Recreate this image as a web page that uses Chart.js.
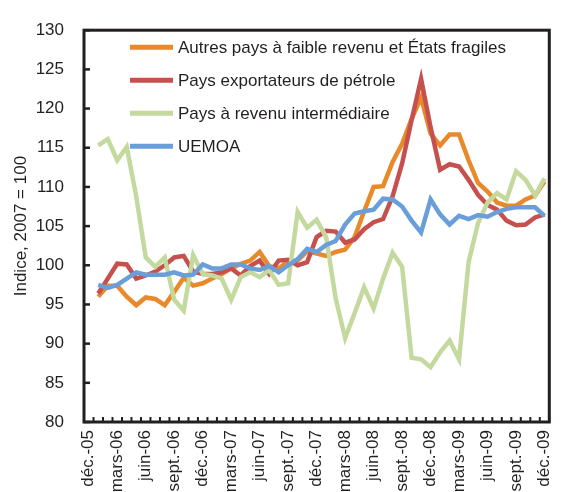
<!DOCTYPE html>
<html>
<head>
<meta charset="utf-8">
<script src="https://cdn.jsdelivr.net/npm/chart.js@4.4.1/dist/chart.umd.min.js"></script>
<style>
  html, body { margin: 0; padding: 0; background: #ffffff; }
  #wrap { width: 573px; height: 492px; }
</style>
</head>
<body>
<div id="wrap"><canvas id="prices" width="573" height="492"></canvas></div>
<script>
// Monthly categories, déc.-05 to déc.-09 (series start in janv.-06)
const months = [
    'déc.-05',
    'janv.-06', 'févr.-06', 'mars-06', 'avr.-06', 'mai-06', 'juin-06',
    'juil.-06', 'août-06', 'sept.-06', 'oct.-06', 'nov.-06', 'déc.-06',
    'janv.-07', 'févr.-07', 'mars-07', 'avr.-07', 'mai-07', 'juin-07',
    'juil.-07', 'août-07', 'sept.-07', 'oct.-07', 'nov.-07', 'déc.-07',
    'janv.-08', 'févr.-08', 'mars-08', 'avr.-08', 'mai-08', 'juin-08',
    'juil.-08', 'août-08', 'sept.-08', 'oct.-08', 'nov.-08', 'déc.-08',
    'janv.-09', 'févr.-09', 'mars-09', 'avr.-09', 'mai-09', 'juin-09',
    'juil.-09', 'août-09', 'sept.-09', 'oct.-09', 'nov.-09', 'déc.-09'
];

const seriesNames = [
    'Autres pays à faible revenu et États fragiles',
    'Pays exportateurs de pétrole',
    'Pays à revenu intermédiaire',
    'UEMOA'
];

const autresPays = [null,
    96.0, 97.4, 97.4, 96.0, 94.9, 95.9, 95.7, 94.9, 96.6, 98.4, 97.4, 97.7,
    98.3, 98.9, 99.6, 100.2, 100.6, 101.7, 99.9, 99.6, 100.5, 100.6, 101.8, 101.5,
    101.2, 101.7, 102.0, 103.6, 106.9, 110.0, 110.1, 113.2, 115.5, 118.7, 121.4, 116.8,
    115.3, 116.7, 116.7, 113.4, 110.5, 109.4, 108.0, 107.6, 107.6, 108.4, 108.9, 110.7];

const exportateurs = [null,
    96.4, 98.3, 100.2, 100.1, 98.3, 98.7, 99.2, 100.0, 101.0, 101.2, 99.2, 98.9,
    98.9, 99.1, 99.6, 98.7, 99.9, 100.6, 98.9, 100.6, 100.7, 100.0, 100.4, 103.6,
    104.4, 104.3, 102.9, 103.3, 104.6, 105.5, 105.9, 108.8, 113.0, 118.5, 123.8, 117.6,
    112.2, 112.9, 112.6, 110.9, 109.0, 107.7, 107.1, 105.7, 105.1, 105.2, 106.1, 106.5];

const revenuInter = [null,
    115.3, 116.1, 113.4, 115.1, 108.8, 101.0, 99.8, 101.0, 95.6, 94.2, 101.3, 98.9,
    98.7, 98.3, 95.6, 98.5, 99.1, 98.5, 99.4, 97.5, 97.7, 106.8, 104.8, 105.8,
    103.6, 95.8, 90.7, 93.9, 97.2, 94.5, 98.3, 101.6, 99.8, 88.2, 88.0, 87.0,
    88.9, 90.4, 88.0, 100.4, 105.4, 108.0, 109.2, 108.4, 112.0, 110.9, 108.9, 111.1];

const uemoa = [null,
    97.5, 97.1, 97.5, 98.3, 99.1, 98.8, 98.8, 98.8, 99.1, 98.7, 98.8, 100.1,
    99.6, 99.6, 100.1, 100.1, 99.6, 99.4, 99.9, 99.1, 100.0, 100.8, 102.1, 101.7,
    102.6, 103.1, 105.2, 106.6, 106.9, 107.1, 108.5, 108.4, 107.5, 105.7, 104.2, 108.4,
    106.5, 105.2, 106.3, 105.9, 106.4, 106.2, 106.8, 107.2, 107.4, 107.4, 107.4, 106.3];

const yTicks = [80, 85, 90, 95, 100, 105, 110, 115, 120, 125, 130];

const colors = ['#E8892A', '#C6504E', '#C4D99D', '#6A9ED8'];
const FONT = "'Liberation Sans Narrow', 'Arial Narrow', 'Liberation Sans', Arial, sans-serif";
const INK = '#231F20';

// Axis frame, inward tick marks and the legend drawn inside the plot
const framePlugin = {
    id: 'frame',
    afterDraw(chart) {
        const ctx = chart.ctx;
        const area = chart.chartArea;
        const x = chart.scales.x;
        const y = chart.scales.y;
        ctx.save();
        ctx.strokeStyle = INK;

        // y ticks pointing inside
        ctx.lineWidth = 2.5;
        yTicks.forEach(function(v) {
            const py = y.getPixelForValue(v);
            ctx.beginPath();
            ctx.moveTo(area.left, py);
            ctx.lineTo(area.left + 6, py);
            ctx.stroke();
        });

        // x ticks between categories
        ctx.lineWidth = 2;
        const step = x.getPixelForValue(1) - x.getPixelForValue(0);
        for (let i = 0; i <= months.length; i++) {
            const px = x.getPixelForValue(0) + (i - 0.5) * step;
            ctx.beginPath();
            ctx.moveTo(px, area.bottom);
            ctx.lineTo(px, area.bottom - 5);
            ctx.stroke();
        }

        // box
        ctx.lineWidth = 3;
        ctx.strokeRect(area.left, area.top, area.right - area.left, area.bottom - area.top);

        // legend
        ctx.font = '17px ' + FONT;
        ctx.textBaseline = 'middle';
        ctx.textAlign = 'left';
        chart.data.datasets.forEach(function(ds, k) {
            const ly = area.top + 17 + k * 33;
            ctx.strokeStyle = ds.borderColor;
            ctx.lineWidth = 5;
            ctx.beginPath();
            ctx.moveTo(area.left + 46, ly);
            ctx.lineTo(area.left + 89, ly);
            ctx.stroke();
            ctx.fillStyle = INK;
            ctx.fillText(ds.label, area.left + 94, ly + 1);
        });
        ctx.restore();
    }
};

function makeSet(label, data, color, order) {
    return {
        label: label,
        data: data,
        borderColor: color,
        backgroundColor: color,
        borderWidth: 4.5,
        pointRadius: 0,
        tension: 0,
        spanGaps: false,
        order: order
    };
}

new Chart(document.getElementById('prices'), {
    type: 'line',
    data: {
        labels: months,
        datasets: [
            makeSet(seriesNames[0], autresPays, colors[0], 3),
            makeSet(seriesNames[1], exportateurs, colors[1], 2),
            makeSet(seriesNames[2], revenuInter, colors[2], 1),
            makeSet(seriesNames[3], uemoa, colors[3], 0)
        ]
    },
    options: {
        responsive: false,
        animation: false,
        layout: { padding: { top: 25, right: 6, left: 0, bottom: 0 } },
        plugins: {
            legend: { display: false },
            tooltip: { enabled: false }
        },
        scales: {
            x: {
                type: 'category',
                offset: true,
                grid: { display: false, drawTicks: false },
                border: { display: false },
                afterFit: function(scale) { scale.height = 70; },
                ticks: {
                    autoSkip: false,
                    maxRotation: 90,
                    minRotation: 90,
                    padding: 8,
                    color: INK,
                    font: { family: FONT, size: 17 },
                    callback: function(value, index) {
                        return index % 3 === 0 ? months[index] : '';
                    }
                }
            },
            y: {
                min: 80,
                max: 130,
                grid: { display: false, drawTicks: false },
                border: { display: false },
                afterFit: function(scale) { scale.width = 84; },
                ticks: {
                    stepSize: 5,
                    padding: 20,
                    color: INK,
                    font: { family: FONT, size: 17 }
                },
                title: {
                    display: true,
                    text: 'Indice, 2007 = 100',
                    color: INK,
                    padding: { top: 11, bottom: 0 },
                    font: { family: FONT, size: 17 }
                }
            }
        }
    },
    plugins: [framePlugin]
});
</script>
</body>
</html>
